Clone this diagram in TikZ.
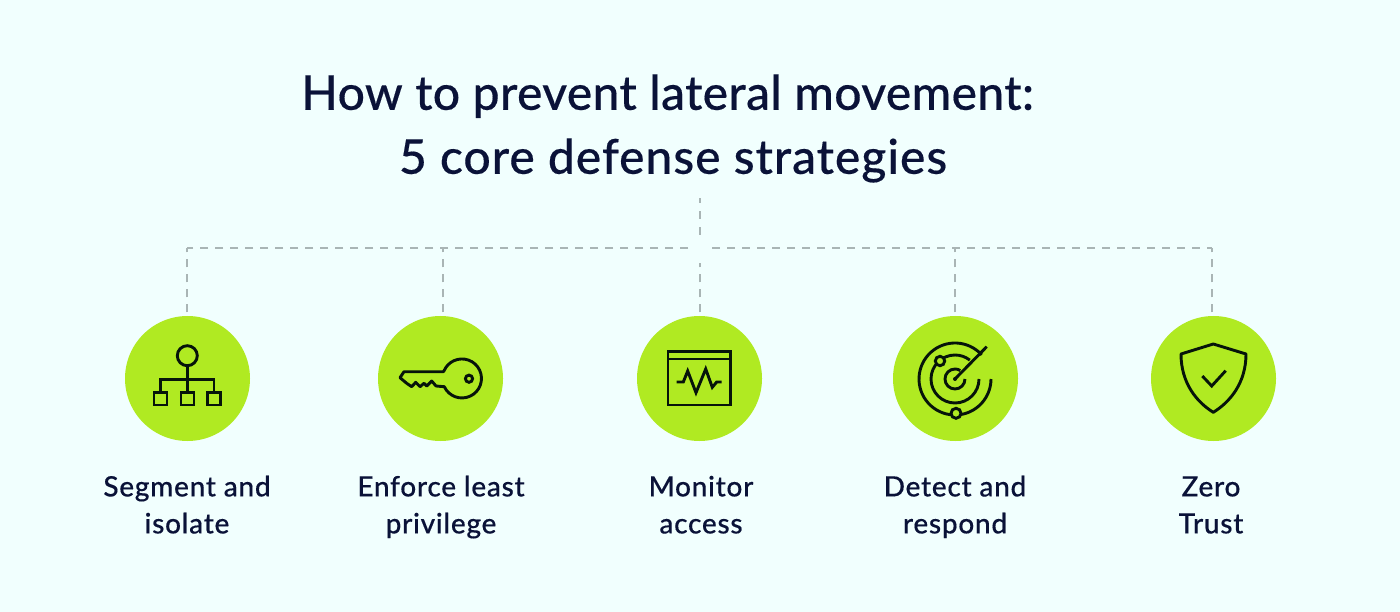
\documentclass[tikz,border=0pt]{standalone}
\usepackage{fontspec}
\setmainfont[FakeBold=0.3]{Lato Medium}
\newfontfamily\ttlfont[FakeBold=0.3,LetterSpace=0.7]{Lato Medium}
\newfontfamily\ttlfontb[FakeBold=0.3,LetterSpace=2.0]{Lato Medium}
\newfontfamily\lblfont[FakeBold=0.3,LetterSpace=2.6]{Lato Medium}
\definecolor{bgc}{HTML}{F1FFFE}
\definecolor{lime}{HTML}{B0EA22}
\definecolor{ink}{HTML}{0A1238}
\definecolor{dashc}{HTML}{A9B5B5}
\definecolor{iconc}{HTML}{06140A}
\tikzset{
  disc/.style={circle,fill=lime,minimum size=125pt,inner sep=0pt},
  lbl/.style={align=center,text=ink,font=\lblfont\fontsize{28}{37}\selectfont,anchor=center},
  ttl/.style={align=center,text=ink,font=\ttlfont\fontsize{48}{64}\selectfont,anchor=center},
  hdash/.style={draw=dashc,line width=1.5pt,dash pattern=on 8pt off 7pt},
  vdash/.style={draw=dashc,line width=1.5pt,dash pattern=on 8pt off 7pt},
  hubdash/.style={draw=dashc,line width=1.5pt,dash pattern=on 8pt off 8pt},
  icon/.style={draw=iconc,line width=2.9pt,line join=miter},
  iconb/.style={draw=iconc,line width=2.9pt,fill=lime}
}
\begin{document}
\begin{tikzpicture}[x=1pt,y=1pt,yscale=-1]
\useasboundingbox (0,0) rectangle (1400,612);
\fill[bgc] (0,0) rectangle (1400,612);
\node[ttl] (title) at (670,129) {\strut How to prevent lateral movement:\hspace*{5pt}\\\strut\hspace*{6pt}{\ttlfontb 5 core defense strategies}};
\node[disc] (c1) at (187.5,378.5) {};
\node[disc] (c2) at (440.5,378.5) {};
\node[disc] (c3) at (699.5,378.5) {};
\node[disc] (c4) at (955.5,378.5) {};
\node[disc] (c5) at (1213.5,378.5) {};
\node[lbl] (l1) at (187,507.5) {\strut Segment and\\\strut isolate};
\node[lbl] (l2) at (441,507.5) {\strut Enforce least\\\strut privilege};
\node[lbl] (l3) at (701,507.5) {\strut Monitor\\\strut access};
\node[lbl] (l4) at (955,507.5) {\strut Detect and\\\strut respond};
\node[lbl] (l5) at (1211,507.5) {\strut Zero\\\strut Trust};
% connectors
\coordinate (hubtop) at (700,198);
\coordinate (hubend) at (700,235);
\coordinate (busL) at (688,248);
\coordinate (busR) at (712,248);
\coordinate (b1) at (187,248);
\coordinate (b2) at (443,248);
\coordinate (b3) at (700,263);
\coordinate (b4) at (955,248);
\coordinate (b5) at (1212,248);
\coordinate (e1) at (187,312.5);
\coordinate (e2) at (443,312.5);
\coordinate (e3) at (700,312.5);
\coordinate (e4) at (955,312.5);
\coordinate (e5) at (1212,312.5);
\draw[hubdash] (hubend) -- (hubtop);
\draw[hdash] (busL) -- (b1);
\draw[hdash] (busR) -- (b5);
\draw[vdash] (e1) -- (b1);
\draw[vdash] (e2) -- (b2);
\draw[vdash] (e3) -- (b3);
\draw[vdash] (e4) -- (b4);
\draw[vdash] (e5) -- (b5);
% icon 1
\draw[icon] (187.3,355.7) circle (10);
\draw[icon] (187.3,365.7) -- (187.3,392.3);
\draw[icon] (160.5,392.3) -- (160.5,379.3) -- (214,379.3) -- (214,392.3);
\draw[icon] (154,392.3) rectangle (167,405);
\draw[icon] (181,392.3) rectangle (194,405);
\draw[icon] (207.5,392.3) rectangle (220.5,405);
% icon 2 key
\draw[icon,line join=round] (443.3,371.7) -- (404,371.7) -- (400,377.7) -- (406.7,383.3) -- (411.7,386.7) -- (415.7,382.3) -- (420,386.7) -- (424,383.3) -- (426.7,386) -- (431.7,381) -- (436,386) -- (444.3,386.7) arc[start angle=155,end angle=-157,radius=19.5] -- cycle;
\draw[icon] (469,378.7) circle (3.6);
% icon 3 monitor
\draw[icon] (668,351.7) rectangle (730.3,405);
\draw[icon] (668,359) -- (730.3,359);
\draw[icon] (676.7,382) -- (683.3,382) -- (687.7,371) -- (696,392.7) -- (705.7,369) -- (712.3,387.3) -- (716.7,382) -- (721.7,382);
% icon 4 radar
\draw[icon] (955,379) ++(-42:36) arc[start angle=-42,end angle=-360,radius=36];
\draw[icon] (955,379) ++(0:24) arc[start angle=0,end angle=308,radius=24];
\draw[icon] (955,379) ++(0:10) arc[start angle=0,end angle=302,radius=10];
\draw[icon] (955,379) -- (986.7,346.7);
\fill[iconc] (955,379) circle (2);
\draw[iconb] (940,361) circle (4.7);
\draw[iconb] (956,413.3) circle (5);
% icon 5 shield
\draw[icon,line join=round] (1213.3,344) -- (1246,354) .. controls (1246,383) and (1230,402) .. (1213.3,412.3) .. controls (1196.6,402) and (1181,383) .. (1181,354) -- cycle;
\draw[icon] (1202.3,376) -- (1211.7,386) -- (1225.7,370.7);
\end{tikzpicture}
\end{document}
